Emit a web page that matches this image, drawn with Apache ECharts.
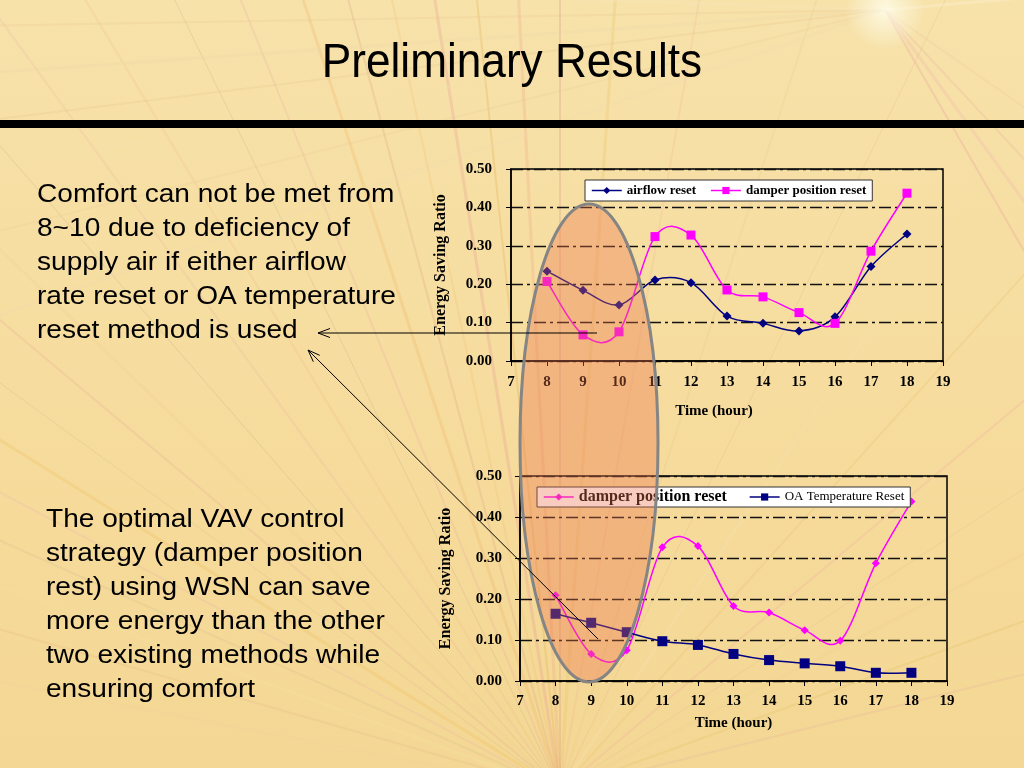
<!DOCTYPE html>
<html>
<head>
<meta charset="utf-8">
<script src="https://cdn.jsdelivr.net/npm/echarts@6/dist/echarts.min.js"></script>
<style>
html,body{margin:0;padding:0;width:1024px;height:768px;overflow:hidden;}
#main{width:1024px;height:768px;}
</style>
</head>
<body>
<div id="main"></div>
<script>
// ---- data ----
const hours = [8, 9, 10, 11, 12, 13, 14, 15, 16, 17, 18];
const airflowReset = [0.234, 0.184, 0.146, 0.211, 0.204, 0.117, 0.098, 0.078, 0.115, 0.246, 0.331];
const damperResetTop = [0.207, 0.068, 0.076, 0.324, 0.328, 0.185, 0.167, 0.126, 0.098, 0.286, 0.437];
const damperResetBottom = [0.209, 0.066, 0.075, 0.326, 0.329, 0.183, 0.167, 0.124, 0.098, 0.287, 0.438];
const oaTempReset = [0.164, 0.142, 0.119, 0.097, 0.088, 0.066, 0.051, 0.043, 0.036, 0.020, 0.020];
const xMin = 7, xMax = 19, xStep = 1;
const yMin = 0, yMax = 0.5, yStep = 0.1;
const titleText = 'Preliminary Results';
const para1 = ['Comfort can not be met from', '8~10 due to deficiency of', 'supply air if either airflow', 'rate reset or OA temperature', 'reset method is used'];
const para2 = ['The optimal VAV control', 'strategy (damper position', 'rest) using WSN can save', 'more energy than the other', 'two existing methods while', 'ensuring comfort'];
const names = { airflow: 'airflow reset', damper: 'damper position reset', oa: 'OA Temperature Reset' };
const xName = 'Time (hour)';
const yName = 'Energy Saving Ratio';

const pairs = (ys) => hours.map((h, i) => [h, ys[i]]);

// ---- decorative background rays ----
const raysBottom = [
  [14, '#e8b0a0', 2, 0.25], [20, '#e0c060', 2, 0.25], [27, '#f0d090', 3, 0.3], [33, '#c8b090', 1, 0.2],
  [40, '#f0a0a0', 2, 0.2], [48, '#e8c070', 2, 0.25], [56, '#f5e0b0', 3, 0.3], [64, '#d8a080', 1, 0.2],
  [72, '#e0c880', 2, 0.2], [80, '#f0b090', 2, 0.2], [86, '#e8c060', 3, 0.25], [90, '#d09080', 2, 0.25],
  [93, '#f0a080', 3, 0.25], [96, '#e0b050', 2, 0.3], [99, '#e89090', 3, 0.25], [102, '#f0c070', 2, 0.25],
  [105, '#d8a080', 2, 0.25], [108, '#f0b060', 3, 0.25], [112, '#e8a0a0', 2, 0.2], [116, '#a09070', 1, 0.2],
  [121, '#f0c080', 2, 0.25], [126, '#e8b0a0', 2, 0.2], [131, '#b0a080', 1, 0.25], [136, '#f0d090', 3, 0.25],
  [140, '#e0a090', 2, 0.2], [144, '#c0b080', 1, 0.25], [148, '#f0c060', 3, 0.3], [152, '#e8b0b0', 2, 0.2],
  [156, '#d0c090', 2, 0.25], [160, '#f5e0a0', 3, 0.3], [164, '#e0b080', 2, 0.2], [169, '#f0d0a0', 2, 0.2]
];
const raysTop = [
  [178, '#f5e6b8', 3, 0.35], [181, '#e8c890', 2, 0.25], [184, '#f0d8a8', 3, 0.3], [187, '#e0c080', 2, 0.2],
  [190, '#f5e0b0', 2, 0.3], [194, '#e8c898', 2, 0.2], [199, '#f0dcb0', 3, 0.25],
  [300, '#e8a0a0', 2, 0.3], [306, '#f0b0b0', 3, 0.25], [313, '#e0a0a0', 2, 0.2], [325, '#f0c0a0', 2, 0.2],
  [5, '#fff0d0', 3, 0.4]
];
function rayEls(origin, list, L) {
  return list.map(r => {
    const a = r[0] * Math.PI / 180;
    return {
      type: 'line', z: -5, silent: true,
      shape: { x1: origin[0], y1: origin[1], x2: origin[0] + L * Math.cos(a), y2: origin[1] - L * Math.sin(a) },
      style: { stroke: r[1], lineWidth: r[2], opacity: r[3] }
    };
  });
}

function paragraph(lines, x, y) {
  return {
    type: 'text', x: x, y: y, scaleX: 1.08, z: 20, silent: true,
    style: {
      text: lines.join('\n'), fill: '#000', font: '26px "Liberation Sans", Arial, sans-serif',
      lineHeight: 34, verticalAlign: 'top', align: 'left'
    }
  };
}

// Excel-style smoothed curve (Catmull-Rom) drawn through the axis scales
function smoothCurve(values, color, xi) {
  return {
    type: 'custom', xAxisIndex: xi, yAxisIndex: xi, silent: true, z: 2,
    data: [0],
    renderItem: function (params, api) {
      const p = hours.map((h, i) => api.coord([h, values[i]]));
      let d = 'M' + p[0][0] + ',' + p[0][1];
      for (let i = 0; i < p.length - 1; i++) {
        const p0 = p[Math.max(i - 1, 0)], p1 = p[i], p2 = p[i + 1], p3 = p[Math.min(i + 2, p.length - 1)];
        const c1 = [p1[0] + (p2[0] - p0[0]) / 6, p1[1] + (p2[1] - p0[1]) / 6];
        const c2 = [p2[0] - (p3[0] - p1[0]) / 6, p2[1] - (p3[1] - p1[1]) / 6];
        d += ' C' + c1[0] + ',' + c1[1] + ' ' + c2[0] + ',' + c2[1] + ' ' + p2[0] + ',' + p2[1];
      }
      return { type: 'path', shape: { pathData: d }, style: { fill: null, stroke: color, lineWidth: 1.5 } };
    }
  };
}

const serif = '"Liberation Serif", "Times New Roman", serif';
const axisLabelStyle = { color: '#000', fontFamily: serif, fontWeight: 'bold', fontSize: 15 };
const splitStyle = { show: true, lineStyle: { color: '#111', width: 1.3, type: [12, 4, 3, 4] } };

function xAxisCfg(gi, margin, gap, pad) {
  return {
    type: 'value', gridIndex: gi, min: xMin, max: xMax, interval: xStep,
    name: xName, nameLocation: 'middle', nameGap: gap,
    nameTextStyle: { color: '#000', fontFamily: serif, fontWeight: 'bold', fontSize: 15, padding: pad },
    axisLine: { show: true, lineStyle: { color: '#000', width: 1.5 } },
    axisTick: { show: true, length: 5, lineStyle: { color: '#000' } },
    axisLabel: Object.assign({ margin: margin }, axisLabelStyle),
    splitLine: { show: false }
  };
}
function yAxisCfg(gi, margin, gap) {
  return {
    type: 'value', gridIndex: gi, min: yMin, max: yMax, interval: yStep,
    name: yName, nameLocation: 'middle', nameGap: gap, nameRotate: 90,
    nameTextStyle: { color: '#000', fontFamily: serif, fontWeight: 'bold', fontSize: 16 },
    axisLine: { show: true, lineStyle: { color: '#000', width: 1.5 } },
    axisTick: { show: true, length: 5, lineStyle: { color: '#000' } },
    axisLabel: Object.assign({ margin: margin, formatter: v => v.toFixed(2) }, axisLabelStyle),
    splitLine: splitStyle
  };
}

function markerSeries(name, xi, values, symbol, size, color) {
  return {
    name: name, type: 'line', xAxisIndex: xi, yAxisIndex: xi,
    data: pairs(values), symbol: symbol, symbolSize: size, z: 3,
    lineStyle: { color: color, width: 1.5, opacity: 0 }, itemStyle: { color: color }
  };
}
const legendLine = (c) => ({ color: c, width: 1.5, opacity: 1 });

const chart = echarts.init(document.getElementById('main'), null, { renderer: 'canvas' });
const option = {
  animation: false,
  backgroundColor: {
    type: 'linear', x: 0, y: 0, x2: 0, y2: 1,
    colorStops: [{ offset: 0, color: '#f7e2aa' }, { offset: 0.5, color: '#f6dc9e' }, { offset: 1, color: '#f4d794' }]
  },
  grid: [
    { left: 511, right: 81, top: 169, height: 192, show: true, borderColor: '#000', borderWidth: 1.5, backgroundColor: 'transparent' },
    { left: 520, right: 77, top: 476, height: 205, show: true, borderColor: '#000', borderWidth: 1.5, backgroundColor: 'transparent' }
  ],
  legend: [
    {
      left: 585, top: 180, orient: 'horizontal', itemGap: 14, itemWidth: 30, itemHeight: 9,
      padding: [4, 6], backgroundColor: '#fff', borderColor: '#333', borderWidth: 1,
      textStyle: { color: '#000', fontFamily: serif, fontWeight: 'bold', fontSize: 13 },
      data: [
        { name: names.airflow, lineStyle: legendLine('#000080') },
        { name: names.damper, lineStyle: legendLine('#ff00ff') }
      ]
    },
    {
      left: 537, top: 487, orient: 'horizontal', itemGap: 18, itemWidth: 30, itemHeight: 9,
      padding: [2, 6], backgroundColor: '#fff', borderColor: '#333', borderWidth: 1,
      data: [
        { name: names.damper + ' ', lineStyle: legendLine('#ff00ff'), textStyle: { color: '#000', fontFamily: serif, fontWeight: 'bold', fontSize: 16 } },
        { name: names.oa, lineStyle: legendLine('#000080'), textStyle: { color: '#000', fontFamily: serif, fontWeight: 'normal', fontSize: 13 } }
      ]
    }
  ],
  xAxis: [xAxisCfg(0, 14, 43, [0, 26, 0, 0]), xAxisCfg(1, 13, 35, [0, 0, 0, 0])],
  yAxis: [yAxisCfg(0, 19, 62), yAxisCfg(1, 18, 66)],
  series: [
    smoothCurve(airflowReset, '#000080', 0),
    smoothCurve(damperResetTop, '#ff00ff', 0),
    smoothCurve(damperResetBottom, '#ff00ff', 1),
    smoothCurve(oaTempReset, '#000080', 1),
    markerSeries(names.airflow, 0, airflowReset, 'diamond', 9, '#000080'),
    markerSeries(names.damper, 0, damperResetTop, 'rect', 9, '#ff00ff'),
    markerSeries(names.damper + ' ', 1, damperResetBottom, 'diamond', 8, '#ff00ff'),
    markerSeries(names.oa, 1, oaTempReset, 'rect', 10, '#000080')
  ],
  graphic: [].concat(
    rayEls([560, 790], raysBottom, 1400),
    rayEls([885, 10], raysTop, 1100),
    [
      {
        type: 'circle', z: -4, silent: true, shape: { cx: 885, cy: 10, r: 40 },
        style: { fill: { type: 'radial', x: 0.5, y: 0.5, r: 0.5, colorStops: [{ offset: 0, color: 'rgba(255,255,240,0.8)' }, { offset: 1, color: 'rgba(255,255,240,0)' }] } }
      },
      {
        type: 'text', x: 512, y: 64, scaleX: 0.92, z: 20, silent: true,
        style: { text: titleText, fill: '#000', font: '48px "Liberation Sans", Arial, sans-serif', align: 'center', verticalAlign: 'middle' }
      },
      { type: 'rect', z: 20, silent: true, shape: { x: 0, y: 120, width: 1024, height: 8 }, style: { fill: '#000' } },
      paragraph(para1, 37, 178),
      paragraph(para2, 46, 503),
      {
        type: 'ellipse', z: 30, silent: true, shape: { cx: 589, cy: 443, rx: 69, ry: 239 },
        style: { fill: 'rgba(236,115,75,0.36)', stroke: '#858585', lineWidth: 3 }
      },
      { type: 'line', z: 31, silent: true, shape: { x1: 597, y1: 333, x2: 318, y2: 333 }, style: { stroke: '#000', lineWidth: 1 } },
      { type: 'polyline', z: 31, silent: true, shape: { points: [[330, 328.5], [318, 333], [330, 337.5]] }, style: { stroke: '#000', lineWidth: 1, fill: null } },
      { type: 'line', z: 31, silent: true, shape: { x1: 598, y1: 639, x2: 308, y2: 350 }, style: { stroke: '#000', lineWidth: 1 } },
      { type: 'polyline', z: 31, silent: true, shape: { points: [[313.3, 361.7], [308, 350], [319.7, 355.3]] }, style: { stroke: '#000', lineWidth: 1, fill: null } }
    ]
  )
};
chart.setOption(option);
</script>
</body>
</html>
